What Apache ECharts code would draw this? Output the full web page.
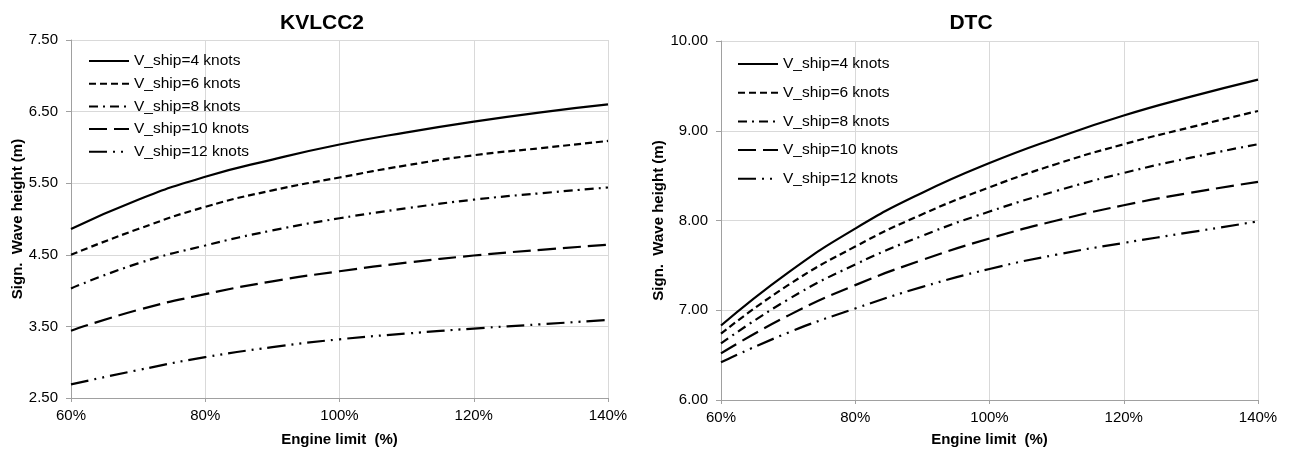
<!DOCTYPE html>
<html>
<head>
<meta charset="utf-8">
<script src="https://cdn.jsdelivr.net/npm/echarts@6/dist/echarts.min.js"></script>
<style>
html,body{margin:0;padding:0;background:#fff;}
#chart{width:1291px;height:452px;}
</style>
</head>
<body>
<div id="chart"></div>
<script>
const engineLimit = [60, 70, 80, 90, 100, 110, 120, 130, 140];
const seriesNames = ['V_ship=4 knots', 'V_ship=6 knots', 'V_ship=8 knots', 'V_ship=10 knots', 'V_ship=12 knots'];

const kvlcc2_4 = [4.86, 5.27, 5.59, 5.83, 6.04, 6.21, 6.36, 6.49, 6.60];
const kvlcc2_6 = [4.50, 4.86, 5.17, 5.40, 5.58, 5.75, 5.89, 5.99, 6.09];
const kvlcc2_8 = [4.03, 4.38, 4.63, 4.84, 5.01, 5.15, 5.27, 5.36, 5.44];
const kvlcc2_10 = [3.44, 3.73, 3.95, 4.13, 4.27, 4.39, 4.49, 4.57, 4.64];
const kvlcc2_12 = [2.69, 2.89, 3.07, 3.21, 3.32, 3.40, 3.47, 3.53, 3.59];

const dtc_4 = [6.83, 7.42, 7.91, 8.31, 8.64, 8.92, 9.17, 9.38, 9.57];
const dtc_6 = [6.74, 7.28, 7.71, 8.07, 8.37, 8.63, 8.85, 9.04, 9.22];
const dtc_8 = [6.63, 7.12, 7.51, 7.83, 8.10, 8.33, 8.53, 8.70, 8.85];
const dtc_10 = [6.52, 6.94, 7.28, 7.56, 7.80, 8.00, 8.17, 8.31, 8.43];
const dtc_12 = [6.42, 6.75, 7.02, 7.26, 7.46, 7.62, 7.75, 7.87, 7.99];

const titles = ['KVLCC2', 'DTC'];
const xAxisName = 'Engine limit  (%)';
const yAxisName = 'Sign.  Wave height (m)';

const dashTypes = ['solid', [7, 4], [9, 5, 2, 5], [18, 7], [18, 6, 2, 6, 2, 6]];

const chartData = [
  [kvlcc2_4, kvlcc2_6, kvlcc2_8, kvlcc2_10, kvlcc2_12],
  [dtc_4, dtc_6, dtc_8, dtc_10, dtc_12]
];

const font = 'Liberation Sans, Arial, sans-serif';

function pair(vals) { return engineLimit.map((x, i) => [x, vals[i]]); }

const series = [];
chartData.forEach((group, gi) => {
  group.forEach((vals, si) => {
    series.push({
      name: seriesNames[si],
      type: 'line',
      xAxisIndex: gi,
      yAxisIndex: gi,
      data: pair(vals),
      smooth: 0.5,
      symbol: 'none',
      lineStyle: { color: '#000', width: 2.2, type: dashTypes[si] },
      itemStyle: { color: '#000' },
      animation: false
    });
  });
});

function xAxisCfg(gi, gap) {
  return {
    type: 'value', gridIndex: gi, min: 60, max: 140, interval: 20,
    name: xAxisName, nameLocation: 'middle', nameGap: gap,
    nameTextStyle: { fontFamily: font, fontWeight: 'bold', fontSize: 15, color: '#000' },
    axisLabel: { formatter: '{value}%', fontFamily: font, fontSize: 15, color: '#000', margin: 10 },
    axisLine: { show: true, lineStyle: { color: '#a0a0a0', width: 1 } },
    axisTick: { show: true, length: 4, lineStyle: { color: '#a0a0a0' } },
    splitLine: { show: true, lineStyle: { color: '#d9d9d9', width: 1 } }
  };
}
function yAxisCfg(gi, min, max, gap) {
  return {
    type: 'value', gridIndex: gi, min: min, max: max, interval: 1,
    name: yAxisName, nameLocation: 'middle', nameGap: gap,
    nameTextStyle: { fontFamily: font, fontWeight: 'bold', fontSize: 15, color: '#000' },
    axisLabel: { formatter: v => v.toFixed(2), fontFamily: font, fontSize: 15, color: '#000', margin: 13 },
    axisLine: { show: true, lineStyle: { color: '#a0a0a0', width: 1 } },
    axisTick: { show: true, length: 5, lineStyle: { color: '#a0a0a0' } },
    splitLine: { show: true, lineStyle: { color: '#d9d9d9', width: 1 } }
  };
}

const legendCommon = {
  orient: 'vertical', itemWidth: 40, itemHeight: 16,
  data: seriesNames,
  itemStyle: { color: 'transparent', borderColor: 'transparent', borderWidth: 0 },
  textStyle: { fontFamily: font, fontSize: 15.5, color: '#000' }
};

const option = {
  backgroundColor: '#fff',
  animation: false,
  title: [
    { text: titles[0], left: 317, top: 8, textAlign: 'center',
      textStyle: { fontFamily: font, fontWeight: 'bold', fontSize: 21, color: '#000' } },
    { text: titles[1], left: 966, top: 8, textAlign: 'center',
      textStyle: { fontFamily: font, fontWeight: 'bold', fontSize: 21, color: '#000' } }
  ],
  legend: [
    Object.assign({}, legendCommon, { left: 83, top: 48, itemGap: 6.7 }),
    Object.assign({}, legendCommon, { left: 732, top: 51, itemGap: 12.7 })
  ],
  grid: [
    { left: 71, right: 683, top: 40, bottom: 53 },
    { left: 721, right: 33, top: 41, bottom: 49 }
  ],
  xAxis: [xAxisCfg(0, 34), xAxisCfg(1, 32)],
  yAxis: [yAxisCfg(0, 2.5, 7.5, 43), yAxisCfg(1, 6, 10, 55)],
  series: series
};

const chart = echarts.init(document.getElementById('chart'), null, { renderer: 'canvas' });
chart.setOption(option);
</script>
</body>
</html>
